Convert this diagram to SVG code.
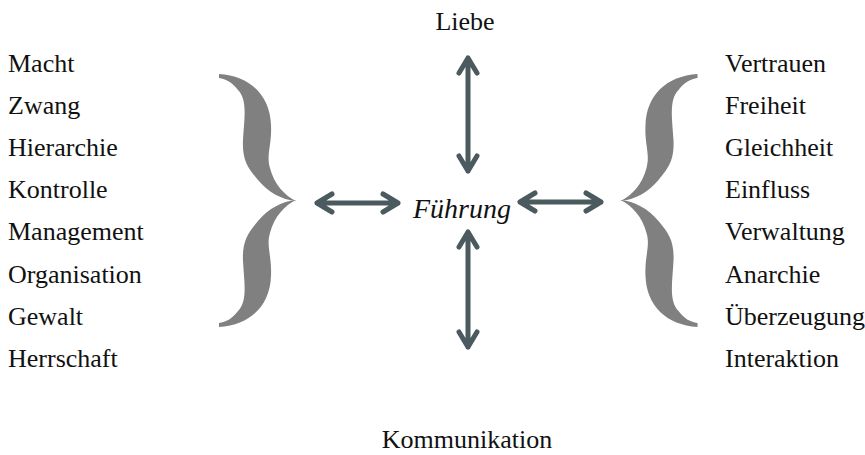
<svg xmlns="http://www.w3.org/2000/svg" xmlns:xlink="http://www.w3.org/1999/xlink" width="865" height="455" viewBox="0 0 865 455">
<style>
.t{font-family:"Liberation Serif","Times New Roman",serif;font-size:26px;fill:#111}
.c{text-anchor:middle}
.i{font-style:italic;font-size:28px}
.a{fill:none;stroke:#4a5a5f;stroke-width:5;stroke-linecap:round;stroke-linejoin:round}
.b{fill:#808080}
</style>
<defs>
<path id="half" class="b" d="M219,74 C250,76 270,95 271,125 C272,145 266,155 270,168 C274,184 285,196 296,201 C282,200 268,192 258,180 C248,168 242,160 243,140 C244,120 248,100 238,90 C232,82 226,79 219,78 Z"/>
<g id="brace"><use xlink:href="#half"/><use xlink:href="#half" transform="translate(0,401) scale(1,-1)"/></g>
</defs>
<g id="left-labels">
<text class="t" x="8" y="72">Macht</text>
<text class="t" x="8" y="114">Zwang</text>
<text class="t" x="8" y="156">Hierarchie</text>
<text class="t" x="8" y="198">Kontrolle</text>
<text class="t" x="8" y="240">Management</text>
<text class="t" x="8" y="283">Organisation</text>
<text class="t" x="8" y="325">Gewalt</text>
<text class="t" x="8" y="367">Herrschaft</text>
</g>
<g id="right-labels">
<text class="t" x="725" y="72">Vertrauen</text>
<text class="t" x="725" y="114">Freiheit</text>
<text class="t" x="725" y="156">Gleichheit</text>
<text class="t" x="725" y="198">Einfluss</text>
<text class="t" x="725" y="240">Verwaltung</text>
<text class="t" x="725" y="283">Anarchie</text>
<text class="t" x="725" y="325">Überzeugung</text>
<text class="t" x="725" y="367">Interaktion</text>
</g>
<g id="left-brace"><use xlink:href="#brace"/></g>
<g id="right-brace"><use xlink:href="#brace" transform="matrix(-1,0,0,1,916.5,0)"/></g>
<g id="liebe"><text class="t c" x="465" y="30">Liebe</text></g>
<g id="fuehrung"><text class="t c i" x="462" y="218">Führung</text></g>
<g id="kommunikation"><text class="t c" x="467" y="448">Kommunikation</text></g>
<g id="connectors">
<path class="a" d="M468,58 V171 M459,73 L468,58 L477,73 M459,156 L468,171 L477,156"/>
<path class="a" d="M468,232 V347 M459,247 L468,232 L477,247 M459,332 L468,347 L477,332"/>
<path class="a" d="M317,203 H398 M332,194 L317,203 L332,212 M383,194 L398,203 L383,212"/>
<path class="a" d="M520,202 H601 M535,193 L520,202 L535,211 M586,193 L601,202 L586,211"/>
</g>
</svg>
